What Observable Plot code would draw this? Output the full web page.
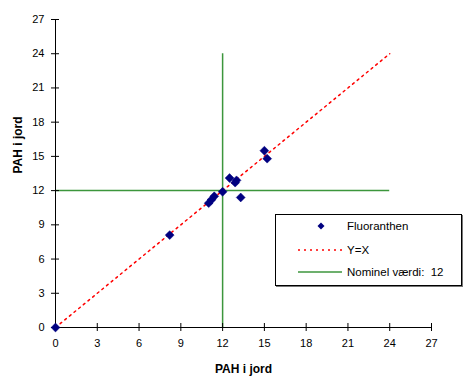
<!DOCTYPE html>
<html>
<head>
<meta charset="utf-8">
<script src="https://cdn.jsdelivr.net/npm/d3@7"></script>
<script src="https://cdn.jsdelivr.net/npm/@observablehq/plot@0.6"></script>
<style>
  body { margin: 0; background: #fff; font-family: Arial, "Liberation Sans", sans-serif; }
  #wrap { position: relative; width: 467px; height: 384px; }
  #legend { position: absolute; left: 275px; top: 214px; width: 185px; height: 70px;
    border: 1px solid #000; background: #fff; box-shadow: 1px 1px 0 #777; font-size: 11.5px; }
  .row { position: absolute; left: 0; height: 16px; display: flex; align-items: center; }
  .row svg { width: 70px; height: 16px; }
  .row span { margin-left: 1px; white-space: pre; }
</style>
</head>
<body>
<div id="wrap"></div>
<script>
// Data
const fluoranthenX = [0, 8.2, 11.0, 11.2, 11.4, 12.0, 12.5, 12.9, 13.0, 13.3, 15.0, 15.2];
const fluoranthenY = [0, 8.1, 10.9, 11.2, 11.5, 11.9, 13.1, 12.7, 12.9, 11.4, 15.5, 14.8];
const yEqualsX = [[0, 0], [24, 24]];
const nominel = 12;
const nominelSpan = [0, 24];
const ticks = [0, 3, 6, 9, 12, 15, 18, 21, 24, 27];
const legendLabels = ["Fluoranthen", "Y=X", "Nominel værdi:  12"];

const points = fluoranthenX.map((x, i) => ({x, y: fluoranthenY[i]}));
const green = "#3c963c";

const chart = Plot.plot({
  width: 467,
  height: 384,
  marginLeft: 55,
  marginRight: 36,
  marginTop: 19,
  marginBottom: 57,
  x: {domain: [0, 27]},
  y: {domain: [0, 27]},
  style: {fontFamily: "Arial, 'Liberation Sans', sans-serif", fontSize: "11px", color: "#000", background: "#fff"},
  marks: [
    Plot.ruleY([nominel], {x1: nominelSpan[0], x2: nominelSpan[1], stroke: green, strokeWidth: 1.5}),
    Plot.ruleX([nominel], {y1: nominelSpan[0], y2: nominelSpan[1], stroke: green, strokeWidth: 1.5}),
    Plot.line(yEqualsX, {x: d => d[0], y: d => d[1], stroke: "#ff0000", strokeWidth: 1.5, strokeDasharray: "2,4"}),
    Plot.axisX({ticks, tickSize: 4, tickPadding: 8, label: null, stroke: "#000"}),
    Plot.axisX({ticks, tickSize: 4, dy: -4, text: null, label: null, stroke: "#000"}),
    Plot.axisY({ticks, tickSize: 4, tickPadding: 7, label: null, stroke: "#000"}),
    Plot.axisY({ticks, tickSize: 4, dx: 4, text: null, label: null, stroke: "#000"}),
    Plot.ruleY([0], {stroke: "#000"}),
    Plot.ruleX([0], {stroke: "#000"}),
    Plot.dot(points, {x: "x", y: "y", symbol: "diamond2", r: 4, fill: "#000080", stroke: "#000080", strokeWidth: 0.5}),
    Plot.text(["PAH i jord"], {frameAnchor: "bottom", dy: 45, fontWeight: "bold", fontSize: 12}),
    Plot.text(["PAH i jord"], {frameAnchor: "left", dx: -37, rotate: -90, fontWeight: "bold", fontSize: 12})
  ]
});

const wrap = document.getElementById("wrap");
wrap.appendChild(chart);

const legend = document.createElement("div");
legend.id = "legend";
const symbols = [
  `<svg viewBox="0 0 70 16"><path d="M45,4.5 L48.5,8 L45,11.5 L41.5,8 Z" fill="#000080"/></svg>`,
  `<svg viewBox="0 0 70 16"><line x1="22" y1="8" x2="66" y2="8" stroke="#ff0000" stroke-width="1.5" stroke-dasharray="2,4"/></svg>`,
  `<svg viewBox="0 0 70 16"><line x1="22" y1="8" x2="66" y2="8" stroke="${green}" stroke-width="1.5"/></svg>`
];
const tops = [3, 27, 49];
legendLabels.forEach((lab, i) => {
  const r = document.createElement("div");
  r.className = "row";
  r.style.top = tops[i] + "px";
  r.innerHTML = symbols[i] + `<span>${lab}</span>`;
  legend.appendChild(r);
});
wrap.appendChild(legend);
</script>
</body>
</html>
